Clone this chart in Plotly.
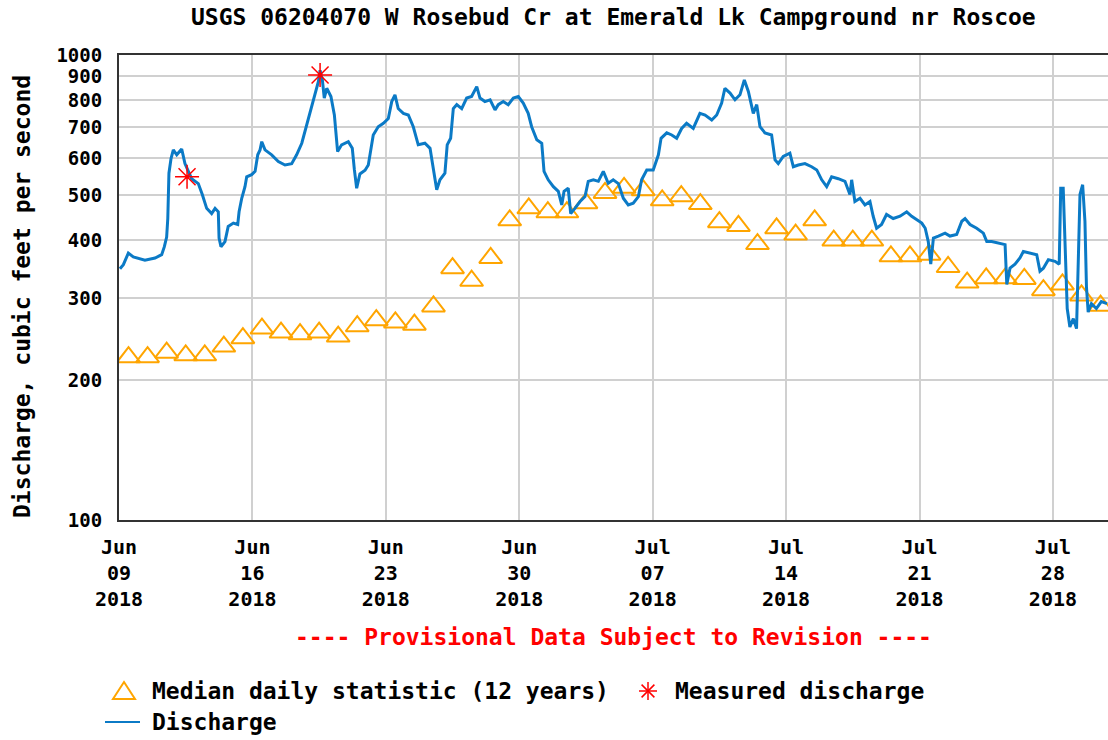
import pandas as pd
import plotly.graph_objects as go

TITLE = "USGS 06204070 W Rosebud Cr at Emerald Lk Campground nr Roscoe"
START = "2018-06-09"
RANGE_DAYS = 51.89

tick_dates = ["2018-06-09", "2018-06-16", "2018-06-23", "2018-06-30",
              "2018-07-07", "2018-07-14", "2018-07-21", "2018-07-28"]
tick_labels = ["Jun<br>09<br>2018", "Jun<br>16<br>2018", "Jun<br>23<br>2018", "Jun<br>30<br>2018",
               "Jul<br>07<br>2018", "Jul<br>14<br>2018", "Jul<br>21<br>2018", "Jul<br>28<br>2018"]
y_ticks = [100, 200, 300, 400, 500, 600, 700, 800, 900, 1000]

# Median daily statistic (12 years), one value per day starting Jun 09
median_values = [224, 224, 229, 226, 226, 236, 246, 258, 253, 251,
                 253, 248, 261, 269, 266, 263, 288, 348, 327, 366,
                 441, 468, 459, 459, 480, 505, 518, 512, 487, 497,
                 478, 437, 429, 392, 424, 411, 441, 399, 399, 399,
                 369, 369, 372, 350, 324, 331, 331, 330, 312, 321,
                 304, 289]

# Measured discharge (days after Jun 09 00:00, cfs)
measured_days = [3.57, 10.55]
measured_values = [547, 906]

# Discharge (days after Jun 09 00:00, cfs)
discharge_days = [
    0.05, 0.23, 0.49, 0.75, 1.36, 1.89, 2.24, 2.38, 2.50, 2.56,
    2.62, 2.73, 2.85, 3.03, 3.29, 3.46, 3.81, 4.16, 4.37, 4.60,
    4.86, 5.04, 5.21, 5.25, 5.35, 5.56, 5.73, 6.00, 6.23, 6.30,
    6.44, 6.61, 6.70, 6.96, 7.14, 7.28, 7.40, 7.49, 7.66, 8.01,
    8.36, 8.71, 9.06, 9.32, 9.59, 9.85, 10.11, 10.28, 10.46, 10.55,
    10.67, 10.77, 10.90, 11.12, 11.30, 11.47, 11.68, 12.03, 12.24, 12.35,
    12.47, 12.64, 12.91, 13.08, 13.17, 13.34, 13.60, 13.87, 14.13, 14.31,
    14.48, 14.65, 14.92, 15.18, 15.44, 15.70, 16.05, 16.32, 16.46, 16.58,
    16.67, 16.84, 17.10, 17.22, 17.40, 17.54, 17.72, 17.98, 18.24, 18.50,
    18.77, 18.94, 19.20, 19.47, 19.73, 19.90, 20.16, 20.42, 20.69, 20.95,
    21.21, 21.47, 21.65, 21.92, 22.18, 22.30, 22.52, 22.79, 23.05, 23.23,
    23.35, 23.57, 23.70, 23.92, 24.19, 24.45, 24.62, 24.89, 25.15, 25.41,
    25.67, 25.93, 26.20, 26.46, 26.72, 26.98, 27.25, 27.42, 27.69, 28.03,
    28.30, 28.44, 28.74, 29.00, 29.26, 29.52, 29.78, 30.13, 30.48, 30.75,
    31.10, 31.36, 31.62, 31.79, 32.06, 32.32, 32.58, 32.81, 33.02, 33.28,
    33.46, 33.63, 33.89, 34.24, 34.42, 34.59, 34.85, 35.20, 35.38, 35.64,
    35.99, 36.34, 36.61, 36.87, 37.13, 37.39, 37.74, 38.09, 38.35, 38.44,
    38.61, 38.88, 39.14, 39.40, 39.57, 39.75, 40.01, 40.27, 40.62, 40.98,
    41.33, 41.59, 41.85, 42.12, 42.30, 42.46, 42.59, 42.73, 42.99, 43.34,
    43.60, 43.95, 44.22, 44.39, 44.65, 45.00, 45.35, 45.53, 45.79, 46.13,
    46.49, 46.58, 46.75, 47.01, 47.27, 47.45, 47.80, 48.15, 48.32, 48.50,
    48.76, 49.11, 49.33, 49.41, 49.54, 49.63, 49.75, 49.89, 50.07, 50.24,
    50.33, 50.42, 50.56, 50.68, 50.76, 50.85, 51.02, 51.28, 51.54, 51.84,
]
discharge_values = [
    347, 354, 375, 368, 362, 366, 372, 387, 406, 445,
    557, 599, 625, 610, 628, 584, 542, 529, 501, 468,
    456, 468, 460, 404, 387, 397, 428, 435, 432, 460,
    492, 521, 547, 553, 562, 610, 625, 651, 625, 610,
    590, 580, 584, 610, 646, 708, 767, 821, 876, 927,
    884, 808, 848, 814, 743, 620, 641, 651, 630, 566,
    517, 555, 565, 580, 610, 673, 701, 713, 730, 794,
    821, 767, 749, 743, 701, 641, 646, 630, 580, 539,
    513, 539, 557, 641, 662, 767, 782, 767, 808, 814,
    855, 808, 794, 801, 762, 782, 794, 782, 808, 814,
    788, 749, 701, 657, 646, 562, 539, 521, 509, 476,
    509, 517, 456, 468, 484, 496, 535, 539, 535, 562,
    530, 539, 529, 492, 476, 480, 496, 539, 566, 566,
    610, 662, 680, 673, 662, 695, 713, 695, 749, 743,
    725, 743, 788, 848, 828, 801, 821, 884, 835, 749,
    782, 701, 680, 673, 595, 584, 605, 615, 575, 580,
    584, 575, 566, 539, 521, 547, 542, 535, 501, 539,
    484, 492, 476, 484, 450, 424, 432, 454, 445, 450,
    460, 450, 442, 435, 424, 397, 355, 404, 408, 414,
    408, 411, 439, 445, 432, 424, 414, 397, 397, 394,
    391, 321, 348, 355, 366, 378, 375, 372, 343, 348,
    363, 360, 355, 517, 517, 397, 285, 260, 271, 258,
    372, 501, 526, 439, 317, 280, 292, 285, 295, 292,
]

BLUE = "#0b7ac6"
ORANGE = "#FFA500"
RED = "#FF0000"
FONT = "DejaVu Sans Mono"

start = pd.Timestamp(START)
median_dates = pd.date_range(start + pd.Timedelta(hours=12), periods=len(median_values), freq="D")
discharge_dates = start + pd.to_timedelta(discharge_days, unit="D")
measured_dates = start + pd.to_timedelta(measured_days, unit="D")

W, H = 1108, 740
L, T, B = 119, 55, 220
PW, PH = W - L, H - T - B


def px(x):
    return (x - L) / PW


def py(y):
    return (H - B - y) / PH


fig = go.Figure()
fig.add_trace(go.Scatter(
    x=median_dates, y=median_values, mode="markers",
    marker=dict(symbol="triangle-up-open", size=20, color=ORANGE, line=dict(width=2, color=ORANGE)),
    name="Median daily statistic (12 years)", showlegend=False))
fig.add_trace(go.Scatter(
    x=discharge_dates, y=discharge_values, mode="lines",
    line=dict(color=BLUE, width=3), name="Discharge", showlegend=False))
fig.add_trace(go.Scatter(
    x=measured_dates, y=measured_values, mode="markers",
    marker=dict(symbol="asterisk-open", size=20, color=RED, line=dict(width=1.5, color=RED)),
    name="Measured discharge", showlegend=False))

tfont = dict(family=FONT, size=23, color="black", weight="bold")

fig.update_layout(
    width=W, height=H,
    margin=dict(l=L, r=0, t=T, b=B),
    paper_bgcolor="white", plot_bgcolor="white",
    xaxis=dict(
        type="date",
        range=[start, start + pd.Timedelta(days=RANGE_DAYS)],
        tickvals=tick_dates, ticktext=tick_labels,
        tickfont=dict(family=FONT, size=20, color="black", weight="bold"),
        showgrid=True, gridcolor="#d0d0d0", gridwidth=2,
        showline=True, linecolor="#333333", linewidth=2, mirror=True,
        ticks="", ticklabelstandoff=8, zeroline=False,
    ),
    yaxis=dict(
        type="log", range=[2, 3],
        tickvals=y_ticks, ticktext=[str(v) for v in y_ticks],
        tickfont=dict(family=FONT, size=19, color="black", weight="bold"),
        showgrid=True, gridcolor="#d0d0d0", gridwidth=2,
        showline=True, linecolor="#333333", linewidth=2, mirror=False,
        ticks="", ticklabelstandoff=11, zeroline=False,
    ),
)

ann = [
    dict(text=TITLE, x=0.5, y=py(17), xref="paper", yref="paper",
         xanchor="center", yanchor="middle", showarrow=False, font=tfont),
    dict(text="Discharge, cubic feet per second", x=px(22), y=py(297), xref="paper", yref="paper",
         xanchor="center", yanchor="middle", showarrow=False, textangle=-90, font=tfont),
    dict(text="---- Provisional Data Subject to Revision ----", x=0.5, y=py(637),
         xref="paper", yref="paper", xanchor="center", yanchor="middle", showarrow=False,
         font=dict(family=FONT, size=23, color=RED, weight="bold")),
    dict(text="Median daily statistic (12 years)", x=px(150), y=py(691), xref="paper", yref="paper",
         xanchor="left", yanchor="middle", showarrow=False, font=tfont),
    dict(text="Measured discharge", x=px(673), y=py(691), xref="paper", yref="paper",
         xanchor="left", yanchor="middle", showarrow=False, font=tfont),
    dict(text="Discharge", x=px(150), y=py(722), xref="paper", yref="paper",
         xanchor="left", yanchor="middle", showarrow=False, font=tfont),
]
fig.update_layout(annotations=ann)

# legend symbols
tri = "M {},{} L {},{} L {},{} Z".format(px(124), py(682), px(135), py(699), px(113), py(699))
shapes = [
    dict(type="path", path=tri, xref="paper", yref="paper", line=dict(color=ORANGE, width=2)),
    dict(type="line", x0=px(105), x1=px(140), y0=py(722), y1=py(722), xref="paper", yref="paper",
         line=dict(color=BLUE, width=2)),
]
cx, cy, r, d = 648, 691, 9, 6.4
for (x0, y0, x1, y1) in [(cx - r, cy, cx + r, cy), (cx, cy - r, cx, cy + r),
                         (cx - d, cy - d, cx + d, cy + d), (cx - d, cy + d, cx + d, cy - d)]:
    shapes.append(dict(type="line", x0=px(x0), x1=px(x1), y0=py(y0), y1=py(y1),
                       xref="paper", yref="paper", line=dict(color=RED, width=1.5)))
fig.update_layout(shapes=shapes)

fig.write_html("out.html", config={"displayModeBar": False})

# remove default page margin so the figure sits at the window's top-left corner
with open("out.html", "r", encoding="utf-8") as f:
    html = f.read()
html = html.replace("<head>", "<head><style>html,body{margin:0;padding:0;overflow:hidden;}</style>", 1)
with open("out.html", "w", encoding="utf-8") as f:
    f.write(html)
